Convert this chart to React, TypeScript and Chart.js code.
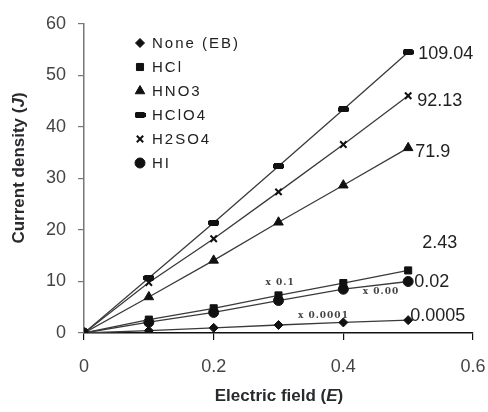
import React, { useEffect, useRef } from "react";
import { Chart, registerables } from "chart.js";
import { drawPoint } from "chart.js/helpers";

Chart.register(...registerables);

// Electric field values (E)
const fieldE = [0, 0.1, 0.2, 0.3, 0.4, 0.5];

// Current density (J), some series plotted with a scale factor
const noneEB = [0, 0.45, 1.0, 1.55, 2.05, 2.5];
const hcl = [0, 2.6, 4.8, 7.3, 9.7, 12.15];
const hno3 = [0, 7.0, 14.1, 21.5, 28.7, 35.95];
const hclo4 = [0, 10.7, 21.4, 32.4, 43.4, 54.52];
const h2so4 = [0, 9.8, 18.3, 27.4, 36.6, 46.07];
const hi = [0, 2.1, 4.0, 6.3, 8.5, 10.0];

const seriesNames = ["None (EB)", "HCl", "HNO3", "HClO4", "H2SO4", "HI"];
const conductivityLabels = ["0.0005", "2.43", "71.9", "109.04", "92.13", "0.02"];
const scaleNotes = ["x 0.0001", "x 0.1", "", "", "", "x 0.00"];

const xTicks = [0, 0.2, 0.4, 0.6];

// flat bar marker used for HClO4
function makeBar(): HTMLCanvasElement {
  const c = document.createElement("canvas");
  c.width = 11;
  c.height = 6;
  const g = c.getContext("2d")!;
  g.fillStyle = "#111";
  g.fillRect(0, 1, 11, 4);
  g.fillRect(1, 0, 9, 6);
  return c;
}

type MarkerStyle = { style: any; radius: number; border: number };

const seriesData = [noneEB, hcl, hno3, hclo4, h2so4, hi];

// label placement relative to the last point of each series
const labelOffsets = [
  { dx: 2, dy: -4 },
  { dx: 14, dy: -27 },
  { dx: 7, dy: 4 },
  { dx: 10, dy: 2 },
  { dx: 9, dy: 5 },
  { dx: 6, dy: 1 },
];
const noteSpots = [
  { x: 0.33, y: 3.4 },
  { x: 0.28, y: 9.8 },
  null,
  null,
  null,
  { x: 0.43, y: 8.1 },
];

function makeTextPlugin(markers: MarkerStyle[]) {
  return {
    id: "chartText",
    afterDraw(chart: any) {
      const ctx = chart.ctx as CanvasRenderingContext2D;
      const xs = chart.scales.x;
      const ys = chart.scales.y;
      ctx.save();

      // legend inside the plot
      const legendX = 140;
      const legendTop = 43;
      const legendStep = 24;
      seriesNames.forEach((name, i) => {
        const y = legendTop + i * legendStep;
        const m = markers[i];
        ctx.fillStyle = "#111";
        ctx.strokeStyle = "#111";
        ctx.lineWidth = m.border;
        drawPoint(ctx, { pointStyle: m.style, radius: m.radius, borderWidth: m.border, rotation: 0 } as any, legendX, y);
        ctx.fillStyle = "#222";
        ctx.font = "15px 'Liberation Sans', Arial, sans-serif";
        (ctx as any).letterSpacing = "2px";
        ctx.textAlign = "left";
        ctx.textBaseline = "middle";
        ctx.fillText(name, 152, y + 1);
      });
      (ctx as any).letterSpacing = "0px";

      // conductivity labels at the end of each line
      ctx.font = "18px 'Liberation Sans', Arial, sans-serif";
      ctx.fillStyle = "#222";
      ctx.textAlign = "left";
      ctx.textBaseline = "middle";
      seriesData.forEach((arr, i) => {
        const last = arr.length - 1;
        const px = xs.getPixelForValue(fieldE[last]) + labelOffsets[i].dx;
        const py = ys.getPixelForValue(arr[last]) + labelOffsets[i].dy;
        ctx.fillText(conductivityLabels[i], px, py);
      });

      // scale factor notes
      ctx.font = "bold 9px 'DejaVu Serif', serif";
      ctx.fillStyle = "#444";
      (ctx as any).letterSpacing = "1px";
      scaleNotes.forEach((note, i) => {
        const spot = noteSpots[i];
        if (!note || !spot) return;
        ctx.fillText(note, xs.getPixelForValue(spot.x), ys.getPixelForValue(spot.y));
      });
      (ctx as any).letterSpacing = "0px";

      // axis titles with italic symbols
      const drawParts = (parts: { t: string; italic: boolean }[], cx: number, cy: number, rot: number) => {
        ctx.save();
        ctx.translate(cx, cy);
        ctx.rotate(rot);
        ctx.fillStyle = "#2a2a2e";
        ctx.textBaseline = "middle";
        ctx.textAlign = "left";
        const fonts = parts.map((p) =>
          p.italic
            ? "italic bold 17px 'Liberation Sans', Arial, sans-serif"
            : "bold 17px 'Liberation Sans', Arial, sans-serif"
        );
        let total = 0;
        parts.forEach((p, k) => {
          ctx.font = fonts[k];
          total += ctx.measureText(p.t).width;
        });
        let x = -total / 2;
        parts.forEach((p, k) => {
          ctx.font = fonts[k];
          ctx.fillText(p.t, x, 0);
          x += ctx.measureText(p.t).width;
        });
        ctx.restore();
      };
      drawParts(
        [
          { t: "Electric field (", italic: false },
          { t: "E", italic: true },
          { t: ")", italic: false },
        ],
        279,
        396,
        0
      );
      drawParts(
        [
          { t: "Current density (", italic: false },
          { t: "J", italic: true },
          { t: ")", italic: false },
        ],
        19,
        168,
        -Math.PI / 2
      );

      ctx.restore();
    },
  };
}

export default function App() {
  const canvasRef = useRef<HTMLCanvasElement | null>(null);

  useEffect(() => {
    const canvas = canvasRef.current;
    if (!canvas) return;
    const markers: MarkerStyle[] = [
      { style: "rectRot", radius: 4.5, border: 1 },
      { style: "rect", radius: 5, border: 1 },
      { style: "triangle", radius: 5.5, border: 1 },
      { style: makeBar(), radius: 5, border: 1 },
      { style: "crossRot", radius: 4.5, border: 2 },
      { style: "circle", radius: 5, border: 1 },
    ];
    const datasets = seriesNames.map((name, i) => ({
      label: name,
      data: fieldE.map((e, k) => ({ x: e, y: seriesData[i][k] })),
      borderColor: "#3a3a3a",
      borderWidth: 1.3,
      backgroundColor: "#111",
      pointStyle: markers[i].style,
      pointRadius: markers[i].radius,
      pointBorderWidth: markers[i].border,
      pointBorderColor: "#111",
      pointBackgroundColor: "#111",
      showLine: true,
      fill: false,
      tension: 0,
    }));

    const chart = new Chart(canvas, {
      type: "scatter",
      data: { datasets },
      plugins: [makeTextPlugin(markers)],
      options: {
        responsive: false,
        animation: false,
        layout: { padding: { left: 0, top: 24, right: 15, bottom: 0 } },
        plugins: { legend: { display: false }, tooltip: { enabled: false } },
        scales: {
          x: {
            type: "linear",
            min: 0,
            max: 0.6,
            afterBuildTicks: (s: any) => {
              s.ticks = xTicks.map((v) => ({ value: v }));
            },
            afterFit: (s: any) => {
              s.height = 79;
              s.paddingLeft = 0;
              s.paddingRight = 0;
            },
            ticks: {
              color: "#444",
              font: { family: "'Liberation Sans', Arial, sans-serif", size: 18 },
              padding: 16,
              callback: (v: any) => String(Math.round(Number(v) * 10) / 10),
            },
            grid: { drawOnChartArea: false, tickLength: 7, color: "#111", lineWidth: 1.2 },
            border: { color: "#111", width: 1.5 },
          },
          y: {
            type: "linear",
            min: 0,
            max: 60,
            afterFit: (s: any) => {
              s.width = 84;
              s.paddingTop = 0;
              s.paddingBottom = 0;
            },
            ticks: {
              stepSize: 10,
              color: "#444",
              font: { family: "'Liberation Sans', Arial, sans-serif", size: 18 },
              padding: 12,
            },
            grid: { drawOnChartArea: false, tickLength: 6, color: "#777", lineWidth: 1.2 },
            border: { color: "#777", width: 1.5 },
          },
        },
      },
    });
    return () => chart.destroy();
  }, []);

  return (
    <div style={{ position: "fixed", left: 0, top: 0, width: 488, height: 412, background: "#fff" }}>
      <canvas ref={canvasRef} width={488} height={412} style={{ display: "block" }} />
    </div>
  );
}
